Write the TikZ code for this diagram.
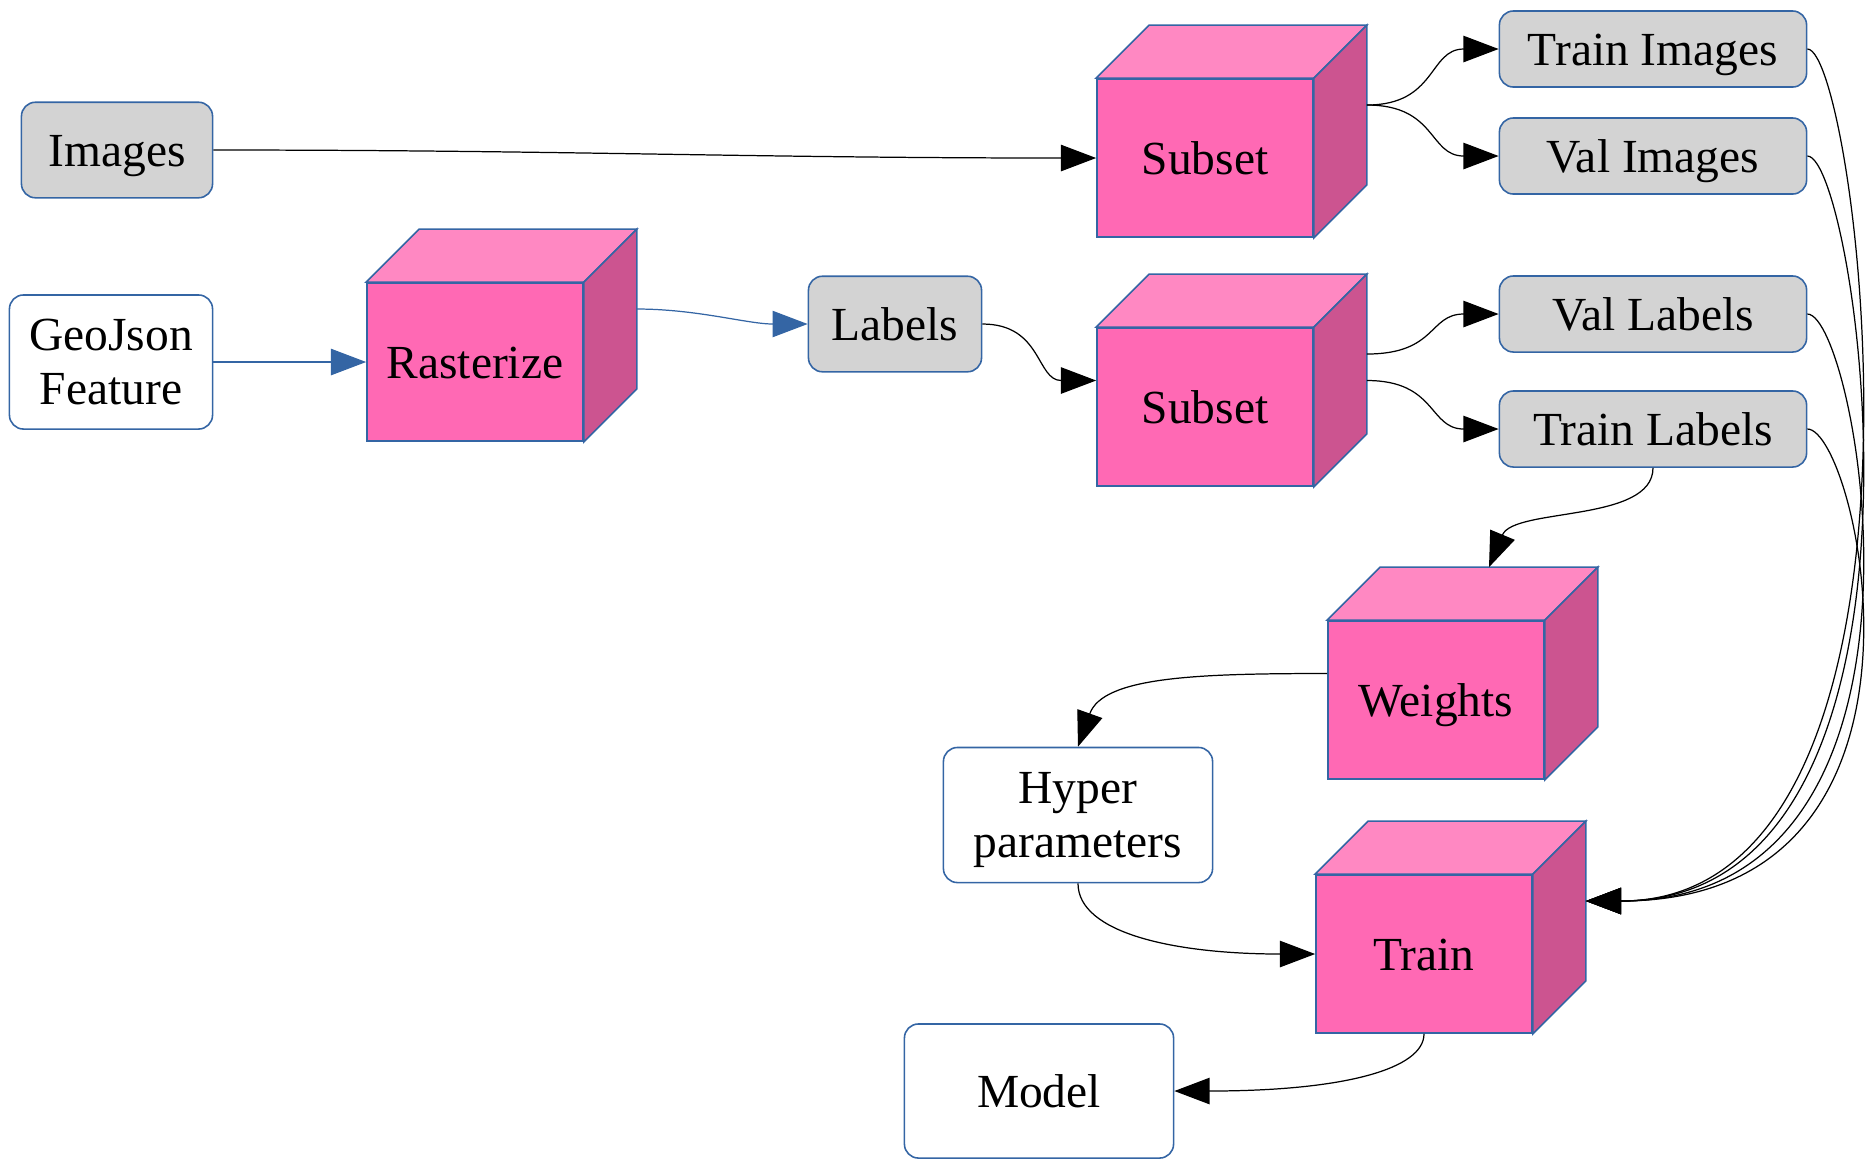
\documentclass[tikz,border=0pt]{standalone}
\usepackage{fontspec}
\setmainfont{Liberation Serif}
\usetikzlibrary{arrows.meta}
\definecolor{bordo}{HTML}{3465A4}
\definecolor{boxgray}{HTML}{D3D3D3}
\definecolor{pinkfront}{HTML}{FF69B4}
\definecolor{pinktop}{HTML}{FF88C2}
\definecolor{pinkside}{HTML}{CC5490}

\begin{document}
\begin{tikzpicture}[x=0.01cm,y=-0.01cm,>={Triangle[length=10pt,width=7.5pt]},
  font=\fontsize{13.5}{15.5}\selectfont,
  box/.style={draw=bordo,line width=0.45pt,rounded corners=0.14cm,align=center},
  line/.style={text height=12pt,text depth=2.9pt},
  grey/.style={box,line,fill=boxgray},
  wide/.style={grey,minimum width=3.07cm,minimum height=0.76cm},
  cube/.style={draw=bordo,line width=0.45pt,line,fill=pinkfront,minimum width=2.16cm,minimum height=1.58cm},
  conn/.style={->,line width=0.35pt},
  blueconn/.style={conn,draw=bordo}]
\useasboundingbox (0,0) rectangle (1872,1159);
\node[grey,minimum width=1.91cm,minimum height=0.955cm] (img) at (117,150) {Images};
\node[box,minimum width=2.03cm,minimum height=1.34cm] (geo) at (111,362) {GeoJson\\Feature};
\node[cube] (ras) at (475,362) {Rasterize};
\node[grey,minimum width=1.73cm,minimum height=0.955cm] (lab) at (895,324) {Labels};
\node[cube] (sub1) at (1205,158) {Subset};
\node[cube] (sub2) at (1205,407) {Subset};
\node[wide] (trimg) at (1653,49) {Train Images};
\node[wide] (valimg) at (1653,156) {Val Images};
\node[wide] (vallab) at (1653,314) {Val Labels};
\node[wide] (trlab) at (1653,429) {Train Labels};
\node[cube] (wts) at (1436,700) {Weights};
\node[cube] (trn) at (1424,954) {Train};
\node[box,minimum width=2.69cm,minimum height=1.35cm] (hyp) at (1078,815) {Hyper\\\smash{parameters}};
\node[box,line,minimum width=2.69cm,minimum height=1.34cm] (mod) at (1039,1091) {Model};
\foreach \cb in {ras,sub1,sub2,wts,trn}{
  \filldraw[draw=bordo,line width=0.45pt,fill=pinktop] (\cb.north west) -- ++(53,-53) -- ([shift={(53,-53)}]\cb.north east) -- (\cb.north east) -- cycle;
  \filldraw[draw=bordo,line width=0.45pt,fill=pinkside] (\cb.north east) -- ++(53,-53) -- ([shift={(53,-53)}]\cb.south east) -- (\cb.south east) -- cycle;
}
\draw[conn] (img.east) .. controls +(350,0) and +(-350,0) .. (sub1.west);
\draw[blueconn] (geo.east) -- (ras.west);
\draw[blueconn] ([shift={(53,-53)}]ras.east) .. controls +(60,0) and +(-60,0) .. (lab.west);
\draw[conn] (lab.east) .. controls +(60,0) and +(-60,0) .. ([shift={(0,-26.5)}]sub2.west);
\foreach \t in {trimg,valimg}
  \draw[conn] ([shift={(53,-53)}]sub1.east) .. controls +(70,0) and +(-70,0) .. (\t.west);
\draw[conn] ([shift={(53,-53)}]sub2.east) .. controls +(70,0) and +(-70,0) .. (vallab.west);
\draw[conn] ([shift={(53,-26.5)}]sub2.east) .. controls +(70,0) and +(-70,0) .. (trlab.west);
\draw[conn] (trlab.south) .. controls +(0,55) and +(25,-60) .. ([shift={(53,-53)}]wts.north);
\draw[conn] ([shift={(0,-26.5)}]wts.west) .. controls +(-130,0) and +(25,-70) .. (hyp.north);
\draw[conn] (hyp.south) .. controls +(0,50) and +(-140,0) .. (trn.west);
\draw[conn] (trn.south) .. controls +(0,35) and +(170,0) .. (mod.east);
\foreach \s in {trimg,valimg,vallab,trlab}
  \draw[conn] (\s.east) .. controls +(50,0) and +(380,0) .. ([shift={(53,-53)}]trn.east);
\end{tikzpicture}
\end{document}
